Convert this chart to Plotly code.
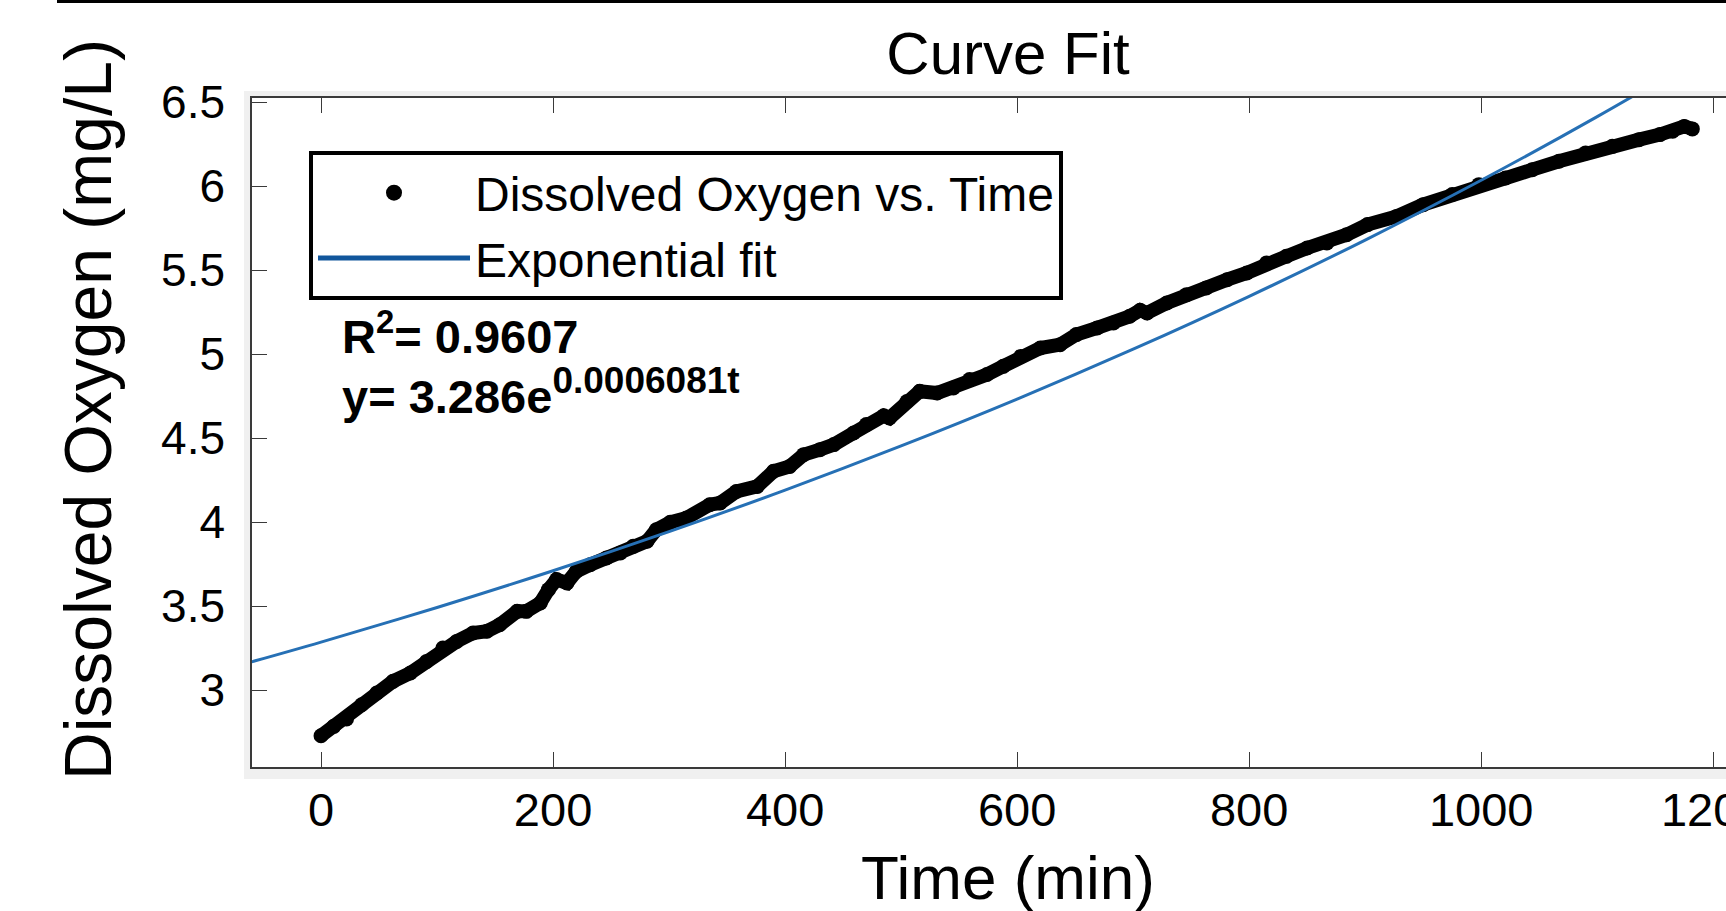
import plotly.graph_objects as go

# ---- data ----
time_min = [0, 11, 22, 35, 48, 62, 77, 91, 105, 117,
            131, 143, 154, 169, 177, 189, 196, 203, 212, 220,
            232, 246, 258, 269, 281, 289, 301, 315, 335, 344,
            358, 376, 390, 404, 416, 430, 442, 459, 470, 485,
            490, 505, 516, 531, 545, 559, 574, 588, 603, 620,
            637, 651, 669, 683, 697, 706, 712, 729, 746, 763,
            781, 798, 815, 832, 850, 867, 884, 902, 927, 950,
            975, 998, 1021, 1044, 1067, 1090, 1113, 1136, 1154, 1165,
            1175, 1182]
dissolved_oxygen = [2.728, 2.784, 2.828, 2.913, 2.983, 3.052, 3.102, 3.171, 3.251, 3.290,
                    3.340, 3.350, 3.389, 3.469, 3.469, 3.519, 3.598, 3.658, 3.638, 3.707,
                    3.747, 3.787, 3.817, 3.856, 3.886, 3.955, 3.999, 4.025, 4.104, 4.114,
                    4.183, 4.213, 4.303, 4.332, 4.402, 4.432, 4.462, 4.531, 4.581, 4.634,
                    4.620, 4.719, 4.779, 4.769, 4.799, 4.849, 4.879, 4.928, 4.987, 5.037,
                    5.057, 5.117, 5.157, 5.186, 5.226, 5.262, 5.246, 5.305, 5.355, 5.395,
                    5.444, 5.484, 5.544, 5.583, 5.633, 5.663, 5.712, 5.772, 5.821, 5.891,
                    5.951, 6.010, 6.050, 6.099, 6.149, 6.199, 6.238, 6.278, 6.308, 6.328,
                    6.357, 6.342]

fit_time = [-60, 0, 100, 200, 300, 400, 500, 600, 700, 800, 900, 1000, 1100, 1200]
fit_values = [3.168, 3.286, 3.492, 3.711, 3.944, 4.191, 4.454, 4.733, 5.030, 5.345,
              5.680, 6.036, 6.415, 6.817]

x_ticks = [0, 200, 400, 600, 800, 1000, 1200]
y_ticks = [3, 3.5, 4, 4.5, 5, 5.5, 6, 6.5]
y_tick_labels = ["3", "3.5", "4", "4.5", "5", "5.5", "6", "6.5"]

series_names = ["Dissolved Oxygen vs. Time", "Exponential fit"]
title_text = "Curve Fit"
x_title = "Time (min)"
y_title = "Dissolved Oxygen (mg/L)"
r_squared_text = "R<sup>2</sup>= 0.9607"
equation_text = "y= 3.286e<sup><span style='font-size:37px'>0.0006081t</span></sup>"

# ---- layout geometry (pixels) ----
W, H = 1726, 911
L, R, T, B = 252, 0, 98, 144
PW, PH = W - L - R, H - T - B


def px(xp):
    return (xp - L) / PW


def py(yp):
    return (H - B - yp) / PH


FONT = "Arial, Liberation Sans, Helvetica, sans-serif"
AX_COLOR = "#3a3a3a"
BLUE = "#2670b5"

fig = go.Figure()

# data (black dots)
fig.add_trace(go.Scatter(
    x=time_min, y=dissolved_oxygen, mode="lines+markers",
    line=dict(color="black", width=14),
    marker=dict(color="black", size=15),
    name=series_names[0], showlegend=False, hoverinfo="x+y"))

# exponential fit
fig.add_trace(go.Scatter(
    x=fit_time, y=fit_values, mode="lines",
    line=dict(color=BLUE, width=3, shape="spline"),
    name=series_names[1], showlegend=False))

# legend entries
fig.add_trace(go.Scatter(
    x=[None], y=[None], mode="markers",
    marker=dict(color="black", size=20),
    name=series_names[0], showlegend=True))
fig.add_trace(go.Scatter(
    x=[None], y=[None], mode="lines",
    line=dict(color="#11569c", width=5),
    name=series_names[1], showlegend=True))

shapes = [
    # grey frame around the axes
    dict(type="rect", xref="paper", yref="paper", layer="below",
         x0=px(244), x1=px(W + 10), y0=py(779), y1=py(91),
         fillcolor="#f0f0f0", line=dict(width=0)),
    dict(type="rect", xref="paper", yref="paper", layer="below",
         x0=0, x1=1, y0=0, y1=1,
         fillcolor="white", line=dict(width=0)),
    # black rule at the very top of the picture
    dict(type="line", xref="paper", yref="paper",
         x0=px(57), x1=px(W + 10), y0=py(1.5), y1=py(1.5),
         line=dict(color="black", width=3)),
]

annotations = [
    dict(text="<b>" + r_squared_text + "</b>", x=px(340), y=py(333),
         xref="paper", yref="paper", xanchor="left", yanchor="middle",
         showarrow=False, font=dict(family=FONT, size=47, color="black")),
    dict(text="<b>" + equation_text + "</b>", x=px(340), y=py(391),
         xref="paper", yref="paper", xanchor="left", yanchor="middle",
         showarrow=False, font=dict(family=FONT, size=47, color="black")),
    # axis titles
    dict(text=x_title, x=px(1008), y=py(877), xref="paper", yref="paper",
         xanchor="center", yanchor="middle", showarrow=False,
         font=dict(family=FONT, size=62, color="black")),
    dict(text=y_title, x=px(88), y=py(410), xref="paper", yref="paper",
         xanchor="center", yanchor="middle", showarrow=False, textangle=-90,
         font=dict(family=FONT, size=66, color="black")),
]

fig.update_layout(
    width=W, height=H,
    margin=dict(l=L, r=R, t=T, b=B, pad=0, autoexpand=False),
    paper_bgcolor="white", plot_bgcolor="white",
    font=dict(family=FONT, color="black"),
    title=dict(text=title_text, x=px(1008), xref="paper", xanchor="center",
               y=1 - 53 / H, yref="container", yanchor="middle",
               font=dict(family=FONT, size=60, color="black")),
    xaxis=dict(
        range=[-59.5, 1211], tickmode="array", tickvals=x_ticks,
        ticks="inside", ticklen=15, tickwidth=1, tickcolor=AX_COLOR,
        showline=True, linecolor=AX_COLOR, linewidth=1.5, mirror="ticks",
        showgrid=False, zeroline=False, automargin=False,
        tickfont=dict(family=FONT, size=47, color="black"),
        ticklabelstandoff=1, ticklabeloverflow="allow",
    ),
    yaxis=dict(
        range=[2.542, 6.526], tickmode="array", tickvals=y_ticks, ticktext=y_tick_labels,
        ticks="inside", ticklen=15, tickwidth=1, tickcolor=AX_COLOR,
        showline=True, linecolor=AX_COLOR, linewidth=1.5, mirror=False,
        showgrid=False, zeroline=False, automargin=False,
        tickfont=dict(family=FONT, size=46, color="black"),
        ticklabelstandoff=16, ticklabeloverflow="allow",
    ),
    legend=dict(
        x=px(309), y=py(151), xanchor="left", yanchor="top",
        xref="paper", yref="paper",
        bgcolor="white", bordercolor="black", borderwidth=4,
        font=dict(family=FONT, size=48, color="black"),
        itemwidth=152, tracegroupgap=0,
    ),
    shapes=shapes,
    annotations=annotations,
    showlegend=True,
)

fig.write_html("out.html",
               config={"displayModeBar": False},
               post_script="document.body.style.margin='0';document.body.style.overflow='hidden';")
